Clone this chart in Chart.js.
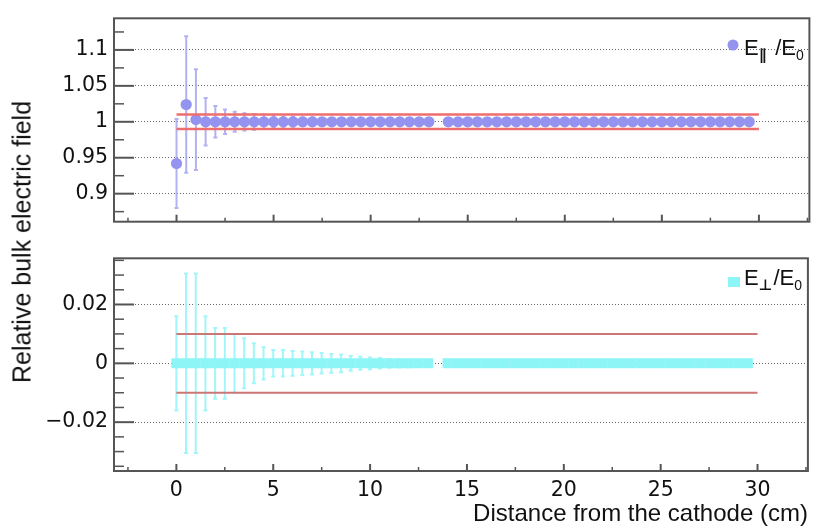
<!DOCTYPE html>
<html>
<head>
<meta charset="utf-8">
<script src="https://cdn.jsdelivr.net/npm/chart.js@4.4.1/dist/chart.umd.min.js"></script>
<style>
  html, body { margin: 0; padding: 0; background: #fff; }
  #wrap { position: relative; width: 815px; height: 530px; overflow: hidden; }
  #topCanvas { position: absolute; left: 0; top: 0; }
  #botCanvas { position: absolute; left: 0; top: 240px; }
  #yTitle {
    position: absolute; left: 22px; top: 242px;
    transform: translate(-50%, -50%) rotate(-90deg);
    font: 25px "Liberation Sans", Arial, sans-serif;
    white-space: nowrap; color: #111;
  }
</style>
</head>
<body>
<div id="wrap">
  <canvas id="topCanvas" width="815" height="240"></canvas>
  <canvas id="botCanvas" width="815" height="290"></canvas>
  <div id="yTitle">Relative bulk electric field</div>
</div>
<script>
// distance from the cathode (cm) for every point (no point at 13.5)
const distances = [0, 0.5, 1, 1.5, 2, 2.5, 3, 3.5, 4, 4.5, 5, 5.5, 6, 6.5, 7, 7.5, 8, 8.5, 9, 9.5,
  10, 10.5, 11, 11.5, 12, 12.5, 13, 14, 14.5, 15, 15.5, 16, 16.5, 17, 17.5, 18, 18.5, 19, 19.5,
  20, 20.5, 21, 21.5, 22, 22.5, 23, 23.5, 24, 24.5, 25, 25.5, 26, 26.5, 27, 27.5, 28, 28.5, 29, 29.5];

// E_par / E0
const parValues = [0.942, 1.024, 1.003, 1.000, 1.000, 1.000, 1.000, 1.000, 1.000, 1.000,
  1.000, 1.000, 1.000, 1.000, 1.000, 1.000, 1.000, 1.000, 1.000, 1.000,
  1.000, 1.000, 1.000, 1.000, 1.000, 1.000, 1.000, 1.000, 1.000, 1.000,
  1.000, 1.000, 1.000, 1.000, 1.000, 1.000, 1.000, 1.000, 1.000, 1.000,
  1.000, 1.000, 1.000, 1.000, 1.000, 1.000, 1.000, 1.000, 1.000, 1.000,
  1.000, 1.000, 1.000, 1.000, 1.000, 1.000, 1.000, 1.000, 1.000];
const parErrors = [0.062, 0.095, 0.070, 0.033, 0.022, 0.017, 0.014, 0.012, 0.011, 0.010,
  0.008, 0.007, 0.007, 0.006, 0.006, 0.005, 0.005, 0.005, 0.004, 0.004,
  0.004, 0.004, 0.004, 0.003, 0.003, 0.003, 0.003, 0.003, 0.003, 0.003,
  0.003, 0.003, 0.003, 0.003, 0.003, 0.003, 0.003, 0.003, 0.003, 0.003,
  0.003, 0.003, 0.003, 0.003, 0.003, 0.003, 0.003, 0.003, 0.003, 0.003,
  0.003, 0.003, 0.003, 0.003, 0.003, 0.003, 0.003, 0.003, 0.003];

// E_perp / E0
const perpValues = [0, 0, 0, 0, 0, 0, 0, 0, 0, 0, 0, 0, 0, 0, 0, 0, 0, 0, 0, 0,
  0, 0, 0, 0, 0, 0, 0, 0, 0, 0, 0, 0, 0, 0, 0, 0, 0, 0, 0, 0,
  0, 0, 0, 0, 0, 0, 0, 0, 0, 0, 0, 0, 0, 0, 0, 0, 0, 0, 0];
const perpErrors = [0.016, 0.0305, 0.0305, 0.016, 0.012, 0.012, 0.010, 0.0085, 0.0068, 0.0055,
  0.0045, 0.0045, 0.0042, 0.0040, 0.0038, 0.0035, 0.0032, 0.0030, 0.0025, 0.0022,
  0.0020, 0.0018, 0.0015, 0.0014, 0.0013, 0.0012, 0.0012, 0.0011, 0.0011, 0.0010,
  0.0010, 0.0010, 0.0010, 0.0010, 0.0010, 0.0010, 0.0010, 0.0010, 0.0010, 0.0010,
  0.0010, 0.0010, 0.0010, 0.0010, 0.0010, 0.0010, 0.0010, 0.0010, 0.0010, 0.0010,
  0.0010, 0.0010, 0.0010, 0.0010, 0.0010, 0.0010, 0.0010, 0.0010, 0.0010];

// +-1% tolerance lines
const bandX = [0, 30];
const parBand = [0.99, 1.01];
const perpBand = [-0.01, 0.01];

// axis ticks
const xTicks = [0, 5, 10, 15, 20, 25, 30];
const xMinorTicks = [-2.5, 2.5, 7.5, 12.5, 17.5, 22.5, 27.5, 32.5];
const parTicks = [0.9, 0.95, 1, 1.05, 1.1];
const parMinorTicks = [0.875, 0.925, 0.975, 1.025, 1.075, 1.125];
const perpTicks = [-0.02, 0, 0.02];
const perpMinorTicks = [-0.035, -0.03, -0.025, -0.015, -0.01, -0.005, 0.005, 0.01, 0.015, 0.025, 0.03, 0.035];

const X_MIN = -3.22, X_MAX = 32.6;
const TXT = '#111';
const tickFont = { family: 'DejaVu Sans', size: 20.5 };

Chart.defaults.font.family = 'DejaVu Sans';

const fmt = v => String(v).replace('-', '\u2212');
const pts = (xs, ys) => xs.map((x, i) => ({ x: x, y: ys[i] }));

// vertical error bars, drawn under the markers
const errorBars = {
  id: 'errorBars',
  beforeDatasetsDraw(chart) {
    const { ctx, scales: { x, y } } = chart;
    chart.data.datasets.forEach(ds => {
      if (!ds.errors) return;
      ctx.save();
      ctx.strokeStyle = ds.errorColor;
      ctx.lineWidth = 2;
      ds.data.forEach((p, i) => {
        const e = ds.errors[i];
        const px = x.getPixelForValue(p.x);
        const lo = y.getPixelForValue(p.y - e);
        const hi = y.getPixelForValue(p.y + e);
        ctx.beginPath();
        ctx.moveTo(px, lo); ctx.lineTo(px, hi);
        ctx.moveTo(px - 2, lo); ctx.lineTo(px + 2, lo);
        ctx.moveTo(px - 2, hi); ctx.lineTo(px + 2, hi);
        ctx.stroke();
      });
      ctx.restore();
    });
  }
};

// ROOT-like frame with inner tick marks
const frame = {
  id: 'frame',
  afterDraw(chart, args, opts) {
    const { ctx, chartArea: a, scales: { x, y } } = chart;
    ctx.save();
    ctx.strokeStyle = '#555';
    const seg = (x1, y1, x2, y2) => { ctx.beginPath(); ctx.moveTo(x1, y1); ctx.lineTo(x2, y2); ctx.stroke(); };
    ctx.lineWidth = 2;
    opts.yMajor.forEach(v => { const py = y.getPixelForValue(v); seg(a.left, py, a.left + 20, py); });
    xTicks.forEach(v => { const px = x.getPixelForValue(v); seg(px, a.bottom, px, a.bottom - 7); });
    ctx.lineWidth = 1.5;
    opts.yMinor.forEach(v => { const py = y.getPixelForValue(v); seg(a.left, py, a.left + 10, py); });
    xMinorTicks.forEach(v => { const px = x.getPixelForValue(v); seg(px, a.bottom, px, a.bottom - 4); });
    ctx.lineWidth = 2;
    ctx.strokeRect(a.left, a.top, a.right - a.left, a.bottom - a.top);
    ctx.restore();
  }
};

// legend entry with subscripts
const subLegend = {
  id: 'subLegend',
  afterDraw(chart, args, opts) {
    const ctx = chart.ctx;
    ctx.save();
    ctx.fillStyle = opts.color;
    if (opts.marker === 'circle') {
      ctx.beginPath(); ctx.arc(opts.mx, opts.my, 5.5, 0, Math.PI * 2); ctx.fill();
    } else {
      ctx.fillRect(opts.mx - 6, opts.my - 5, 12, 10);
    }
    ctx.fillStyle = TXT;
    ctx.textBaseline = 'alphabetic';
    let cx = opts.tx;
    opts.parts.forEach(p => {
      if (p.sym) ctx.font = 'bold 15px "DejaVu Sans"';
      else if (p.sub) ctx.font = '14px "Liberation Sans", "DejaVu Sans"';
      else ctx.font = '22px "Liberation Sans", "DejaVu Sans"';
      ctx.fillText(p.t, cx, opts.ty + (p.sub ? 5 : 0));
      cx += ctx.measureText(p.t).width + (p.gap || 0);
    });
    ctx.restore();
  }
};

const yAxis = (min, max, ticks) => ({
  type: 'linear', min: min, max: max,
  afterBuildTicks: s => { s.ticks = ticks.map(v => ({ value: v })); },
  afterFit: s => { s.width = 114; },
  grid: { color: '#666', lineWidth: 1, drawTicks: false },
  border: { display: false, dash: [1, 2] },
  ticks: { font: tickFont, color: TXT, padding: 6, callback: v => fmt(v) }
});

new Chart(document.getElementById('topCanvas'), {
  type: 'scatter',
  data: {
    datasets: [
      { data: pts(bandX, [parBand[1], parBand[1]]), showLine: true, borderColor: '#ee6e6e', borderWidth: 2.5, pointRadius: 0 },
      { data: pts(bandX, [parBand[0], parBand[0]]), showLine: true, borderColor: '#ee6e6e', borderWidth: 2.5, pointRadius: 0 },
      {
        data: pts(distances, parValues), errors: parErrors, errorColor: 'rgba(165,165,240,0.85)',
        pointStyle: 'circle', pointRadius: 5.6, pointBorderWidth: 0, backgroundColor: '#9494f0'
      }
    ]
  },
  options: {
    responsive: false, animation: false, events: [],
    layout: { padding: { top: 10, right: 3, bottom: 10, left: 0 } },
    scales: {
      x: { type: 'linear', display: false, min: X_MIN, max: X_MAX },
      y: yAxis(0.861, 1.144, parTicks)
    },
    plugins: {
      legend: { display: false }, tooltip: { enabled: false },
      frame: { yMajor: parTicks, yMinor: parMinorTicks },
      subLegend: {
        marker: 'circle', color: '#9494f0', mx: 733, my: 45, tx: 744, ty: 55,
        parts: [{ t: 'E' }, { t: '\u2225', sub: true, sym: true, gap: 9 }, { t: '/E' }, { t: '0', sub: true }]
      }
    }
  },
  plugins: [errorBars, frame, subLegend]
});

new Chart(document.getElementById('botCanvas'), {
  type: 'scatter',
  data: {
    datasets: [
      { data: pts(bandX, [perpBand[1], perpBand[1]]), showLine: true, borderColor: '#cc7676', borderWidth: 2, pointRadius: 0 },
      { data: pts(bandX, [perpBand[0], perpBand[0]]), showLine: true, borderColor: '#cc7676', borderWidth: 2, pointRadius: 0 },
      {
        data: pts(distances, perpValues), errors: perpErrors, errorColor: 'rgba(150,245,250,0.9)',
        pointStyle: 'rect', pointRadius: 7.1, pointBorderWidth: 0, backgroundColor: '#8ef5f7'
      }
    ]
  },
  options: {
    responsive: false, animation: false, events: [],
    layout: { padding: { top: 9, right: 3, bottom: 0, left: 0 } },
    scales: {
      x: {
        type: 'linear', min: X_MIN, max: X_MAX,
        afterBuildTicks: s => { s.ticks = xTicks.map(v => ({ value: v })); },
        afterFit: s => { s.height = 59; },
        grid: { display: false, drawTicks: false },
        border: { display: false },
        ticks: { font: tickFont, color: TXT, padding: 7, maxRotation: 0, autoSkip: false, callback: v => fmt(v) },
        title: {
          display: true, text: 'Distance from the cathode (cm)', align: 'end', color: TXT,
          font: { family: 'Liberation Sans', size: 24 }, padding: { top: 0, bottom: 1 }
        }
      },
      y: yAxis(-0.0366, 0.0357, perpTicks)
    },
    plugins: {
      legend: { display: false }, tooltip: { enabled: false },
      frame: { yMajor: perpTicks, yMinor: perpMinorTicks },
      subLegend: {
        marker: 'rect', color: '#8ef5f7', mx: 734, my: 42, tx: 744, ty: 45,
        parts: [{ t: 'E' }, { t: '\u22A5', sub: true, sym: true, gap: 1 }, { t: '/E' }, { t: '0', sub: true }]
      }
    }
  },
  plugins: [errorBars, frame, subLegend]
});
</script>
</body>
</html>
